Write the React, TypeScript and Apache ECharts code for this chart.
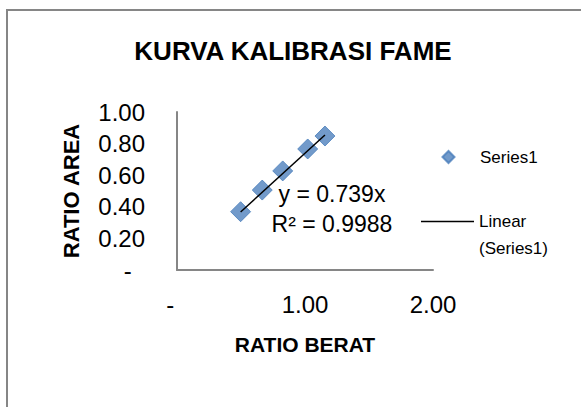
import React, { useEffect, useRef } from 'react';
import * as echarts from 'echarts';

// Data
const X_VALUES = [0.497, 0.666, 0.826, 1.021, 1.156]; // RATIO BERAT
const Y_VALUES = [0.369, 0.506, 0.627, 0.766, 0.848]; // RATIO AREA
const TREND_SLOPE = 0.739; // y = 0.739x (as printed on the chart)
const R_SQUARED = '0.9988';
const SERIES_NAME = 'Series1';
const TREND_NAME = 'Linear (Series1)';
const TITLE = 'KURVA KALIBRASI FAME';
const X_NAME = 'RATIO BERAT';
const Y_NAME = 'RATIO AREA';

const FONT = '"Liberation Sans", Arial, sans-serif';

const fmt = (v: number) => (v === 0 ? '-  ' : v.toFixed(2));

// Legend icons: a diamond / a thin line centred in a 53x12 box
const DIAMOND_ICON = 'path://M0,0 L0,0 Z M20.5,6 L26.5,0 L32.5,6 L26.5,12 Z M53,12 L53,12 Z';
const LINE_ICON = 'path://M0,0 L0,0 Z M0,5.25 L53,5.25 L53,6.75 L0,6.75 Z M53,12 L53,12 Z';

export default function App() {
  const ref = useRef<HTMLDivElement>(null);
  useEffect(() => {
    if (!ref.current) return;
    const chart = echarts.init(ref.current, null, { renderer: 'svg' });
    const points = X_VALUES.map((x, i) => [x, Y_VALUES[i]]);
    const minX = Math.min(...X_VALUES);
    const maxX = Math.max(...X_VALUES);
    const trend = [
      [minX, TREND_SLOPE * minX],
      [maxX, TREND_SLOPE * maxX],
    ];
    const axisColor = '#868686';
    chart.setOption({
      animation: false,
      backgroundColor: '#ffffff',
      textStyle: { fontFamily: FONT },
      title: {
        text: TITLE,
        left: 288,
        top: 33,
        textAlign: 'center',
        textStyle: { fontSize: 26, fontWeight: 'bold', color: '#000', fontFamily: FONT },
      },
      grid: { left: 177, top: 112, right: 148, bottom: 137 },
      xAxis: {
        type: 'value',
        min: 0,
        max: 2,
        interval: 1,
        axisLine: { show: true, lineStyle: { color: axisColor, width: 2 } },
        axisTick: { show: false },
        splitLine: { show: false },
        axisLabel: { formatter: fmt, fontSize: 24, color: '#000', margin: 22, fontFamily: FONT },
        name: X_NAME,
        nameLocation: 'middle',
        nameGap: 64,
        nameTextStyle: { fontSize: 21, fontWeight: 'bold', color: '#000', fontFamily: FONT },
      },
      yAxis: {
        type: 'value',
        min: 0,
        max: 1,
        interval: 0.2,
        axisLine: { show: true, lineStyle: { color: axisColor, width: 2 } },
        axisTick: { show: false },
        splitLine: { show: false },
        axisLabel: { formatter: fmt, fontSize: 24, color: '#000', margin: 32, fontFamily: FONT },
        name: Y_NAME,
        nameLocation: 'middle',
        nameGap: 95,
        nameRotate: 90,
        nameTextStyle: { fontSize: 22, fontWeight: 'bold', color: '#000', fontFamily: FONT },
      },
      legend: [
        {
          data: [{ name: SERIES_NAME, icon: DIAMOND_ICON }],
          orient: 'vertical',
          left: 421,
          top: 147,
          padding: 0,
          itemWidth: 53,
          itemHeight: 12,
          selectedMode: false,
          textStyle: { fontSize: 17, color: '#000', lineHeight: 20, fontFamily: FONT },
        },
        {
          data: [
            {
              name: TREND_NAME,
              icon: LINE_ICON,
              itemStyle: { color: '#000', borderWidth: 0 },
            },
          ],
          orient: 'vertical',
          left: 421,
          top: 181,
          padding: 0,
          itemWidth: 53,
          itemHeight: 12,
          selectedMode: false,
          formatter: () => ' \nLinear\n(Series1)',
          textStyle: { fontSize: 17, color: '#000', lineHeight: 27, fontFamily: FONT },
        },
      ],
      series: [
        {
          name: SERIES_NAME,
          type: 'scatter',
          data: points,
          symbol: 'diamond',
          symbolSize: 20,
          itemStyle: { color: '#4F81BD', borderColor: '#4A7EBB', borderWidth: 1 },
        },
        {
          name: TREND_NAME,
          type: 'line',
          data: trend,
          symbol: 'none',
          itemStyle: { color: '#000' },
          lineStyle: { color: '#000', width: 1.5 },
          z: 3,
        },
      ],
      graphic: [
        {
          type: 'rect',
          silent: true,
          shape: { x: 7, y: 10, width: 700, height: 600 },
          style: { fill: 'none', stroke: '#868686', lineWidth: 2 },
          z: -10,
        },
        {
          type: 'text',
          silent: true,
          x: 332,
          y: 209,
          style: {
            text: `y = ${TREND_SLOPE}x\nR² = ${R_SQUARED}`,
            fill: '#000',
            fontSize: 23,
            lineHeight: 30,
            fontFamily: FONT,
            textAlign: 'center',
            textVerticalAlign: 'middle',
          },
          z: 10,
        },
      ],
    });
    return () => chart.dispose();
  }, []);
  return (
    <div
      ref={ref}
      style={{ position: 'fixed', left: 0, top: 0, width: 581, height: 407, background: '#fff' }}
    />
  );
}
